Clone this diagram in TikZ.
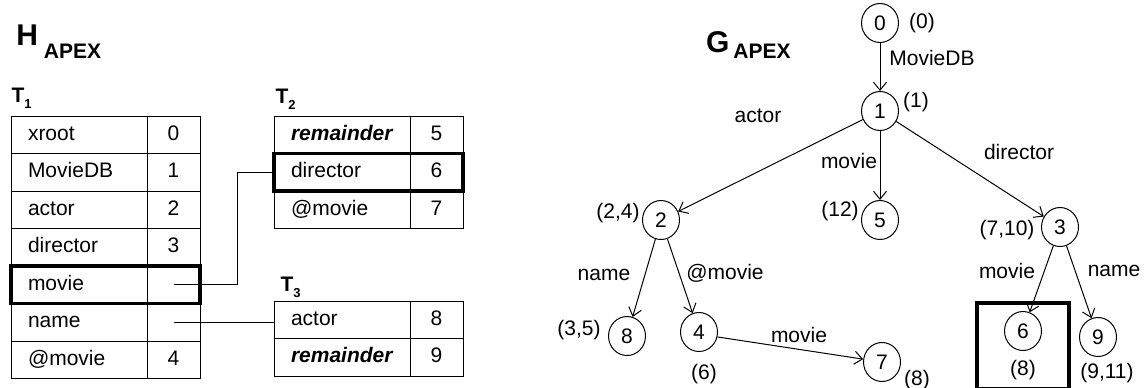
\documentclass[tikz,border=0pt]{standalone}
\usepackage{fontspec}
\setmainfont{Liberation Sans}
\usetikzlibrary{positioning, shapes.geometric, arrows.meta, fit}

\begin{document}
\begin{tikzpicture}[>={Straight Barb[length=4pt,width=6.5pt]}, line width=0.5pt,
  font=\fontsize{10.5}{12.6}\selectfont,
  key/.style={draw, outer sep=0pt, inner xsep=8.5pt, text width=51pt, align=left, minimum height=18.75pt, text height=7.6pt, text depth=2.2pt},
  val/.style={draw, outer sep=0pt, inner xsep=0pt, minimum width=26.5pt, minimum height=18.75pt, align=center, text height=7.6pt, text depth=2.2pt},
  sel/.style={draw, line width=1.8pt, inner sep=0pt},
  tname/.style={inner sep=0pt, font=\fontsize{10.5}{12.6}\selectfont\bfseries},
  title/.style={inner sep=0pt, font=\fontsize{15}{18}\selectfont\bfseries},
  gnode/.style={draw, ellipse, minimum width=18.5pt, minimum height=19.5pt, inner sep=0pt, on grid},
  lbl/.style={inner sep=0pt, on grid}]

  \useasboundingbox (0,0) rectangle (572.5pt,-193.5pt);

  % titles
  \node[title, anchor=base west] (hTitle) at (7.9pt,-22.5pt) {H\kern3pt\raisebox{-6.5pt}{\fontsize{10.5}{12.6}\selectfont APEX}};
  \node[title, anchor=base west] (gTitle) at (352.8pt,-26pt) {G\kern2pt\raisebox{-3pt}{\fontsize{10.5}{12.6}\selectfont APEX}};

  % table T1
  \node[key, anchor=north west] (kXroot) at (5.5pt,-58pt) {xroot};
  \node[val, right=0pt of kXroot] (vXroot) {0};
  \node[key, below=0pt of kXroot] (kMovieDB) {MovieDB};
  \node[val, right=0pt of kMovieDB] (vMovieDB) {1};
  \node[key, below=0pt of kMovieDB] (kActor) {actor};
  \node[val, right=0pt of kActor] (vActor) {2};
  \node[key, below=0pt of kActor] (kDirector) {director};
  \node[val, right=0pt of kDirector] (vDirector) {3};
  \node[key, below=0pt of kDirector] (kMovie) {movie};
  \node[val, right=0pt of kMovie] (vMovie) {};
  \node[key, below=0pt of kMovie] (kName) {name};
  \node[val, right=0pt of kName] (vName) {};
  \node[key, below=0pt of kName] (kAtMovie) {@movie};
  \node[val, right=0pt of kAtMovie] (vAtMovie) {4};
  \node[tname, above right=3.5pt and 0pt of kXroot.north west] (tOne) {T\raisebox{-3pt}{\fontsize{6.5}{7}\selectfont 1}};

  % table T2
  \node[key, anchor=north west] (kRem2) at (137pt,-58pt) {\textbf{\textit{remainder}}};
  \node[val, right=0pt of kRem2] (vRem2) {5};
  \node[key, below=0pt of kRem2] (kDir2) {director};
  \node[val, right=0pt of kDir2] (vDir2) {6};
  \node[key, below=0pt of kDir2] (kAtm2) {@movie};
  \node[val, right=0pt of kAtm2] (vAtm2) {7};
  \node[tname, above right=3pt and 0.5pt of kRem2.north west] (tTwo) {T\raisebox{-3pt}{\fontsize{6.5}{7}\selectfont 2}};

  % table T3
  \node[key, anchor=north west] (kAct3) at (137pt,-150.5pt) {actor};
  \node[val, right=0pt of kAct3] (vAct3) {8};
  \node[key, below=0pt of kAct3] (kRem3) {\textbf{\textit{remainder}}};
  \node[val, right=0pt of kRem3] (vRem3) {9};
  \node[tname, above right=1.5pt and 3pt of kAct3.north west] (tThree) {T\raisebox{-3pt}{\fontsize{6.5}{7}\selectfont 3}};

  \node[sel, fit=(kMovie)(vMovie)] (selMovie) {};
  \node[sel, fit=(kDir2)(vDir2)] (selDir) {};

  \draw (vMovie.center) -- ++(31.75pt,0) |- (kDir2.west);
  \draw (vName.center) -- (vName.center -| kAct3.west);

  % graph
  \node[gnode] (n0) at (440pt,-11.5pt) {0};
  \node[gnode, below=44pt of n0] (n1) {1};
  \node[gnode, below left=54.5pt and 109.5pt of n1] (n2) {2};
  \node[gnode, below=54.5pt of n1] (n5) {5};
  \node[gnode, below right=58pt and 90pt of n1] (n3) {3};
  \node[gnode, below left=58pt and 17pt of n2] (n8) {8};
  \node[gnode, below right=56pt and 19pt of n2] (n4) {4};
  \node[gnode, below right=15pt and 91.5pt of n4] (n7) {7};
  \node[gnode, below left=52pt and 18.5pt of n3] (n6) {6};
  \node[gnode, below right=55pt and 19pt of n3] (n9) {9};

  \node[sel, on grid, minimum width=46pt, minimum height=43pt, below=7.5pt of n6] (box6) {};

  \node[lbl, right=21pt of n0] (a0) {(0)};
  \node[lbl, above right=4.5pt and 18pt of n1] (a1) {(1)};
  \node[lbl, above left=3.5pt and 21.5pt of n2] (a2) {(2,4)};
  \node[lbl, above left=4.5pt and 20pt of n5] (a5) {(12)};
  \node[lbl, below left=1.5pt and 26.5pt of n3] (a3) {(7,10)};
  \node[lbl, above left=3pt and 24pt of n8] (a8) {(3,5)};
  \node[lbl, below right=21pt and 2.5pt of n4] (a4) {(6)};
  \node[lbl, below right=9pt and 17.5pt of n7] (a7) {(8)};
  \node[lbl, below=19.5pt of n6] (a6) {(8)};
  \node[lbl, below right=18pt and 4.5pt of n9] (a9) {(9,11)};

  \node[lbl, below right=17.5pt and 26pt of n0] (lMovieDB) {MovieDB};
  \node[lbl, below left=2.5pt and 61pt of n1] (lActor) {actor};
  \node[lbl, below left=25pt and 15.5pt of n1] (lMovie1) {movie};
  \node[lbl, below right=20.5pt and 69.5pt of n1] (lDirector) {director};
  \node[lbl, below left=27.5pt and 28.5pt of n2] (lName2) {name};
  \node[lbl, below right=26.5pt and 32pt of n2] (lAtMovie) {@movie};
  \node[lbl, below right=1.5pt and 50pt of n4] (lMovie4) {movie};
  \node[lbl, below left=22pt and 26.5pt of n3] (lMovie3) {movie};
  \node[lbl, below right=22pt and 27pt of n3] (lName3) {name};

  \draw[->] (n0) -- (n1);
  \draw[->] (n1) -- (n2);
  \draw[->] (n1) -- (n5);
  \draw[->] (n1) -- (n3);
  \draw[->] (n2) -- (n8);
  \draw[->] (n2) -- (n4);
  \draw[->] (n4.-15) -- (n7);
  \draw[->] (n3) -- (n6);
  \draw[->] (n3) -- (n9);
\end{tikzpicture}
\end{document}
